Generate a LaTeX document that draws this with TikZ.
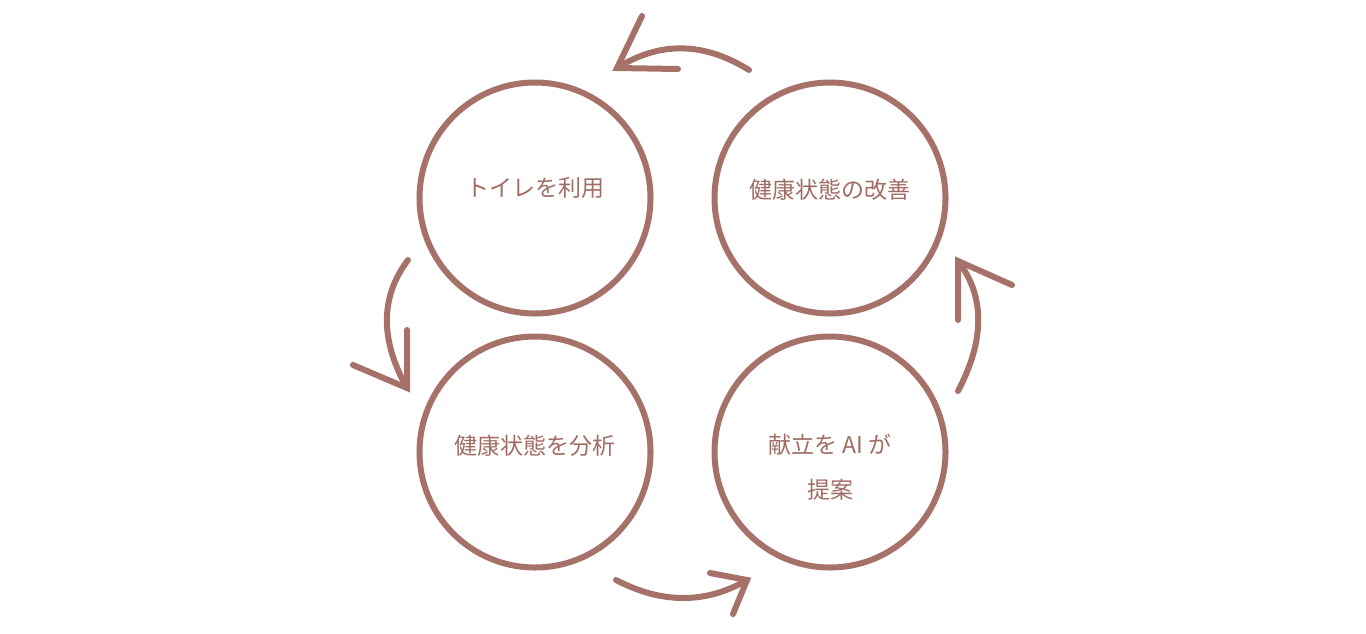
\documentclass[tikz,border=0pt]{standalone}
\usepackage{fontspec}
\newfontfamily\jp{Noto Sans CJK JP}
\definecolor{rose}{RGB}{165,113,104}
\definecolor{rosetext}{RGB}{160,108,100}
\begin{document}
\begin{tikzpicture}[x=1pt,y=-1pt,
  stage/.style={circle,draw=rose,line width=6pt,minimum size=231pt,inner sep=0pt},
  label/.style={text=rosetext,font=\jp\fontsize{23}{45}\selectfont,align=center},
  cyc/.style={draw=rose,line width=6pt,line cap=round},
  head/.style={draw=rose,line width=6pt,line cap=round,line join=miter}]
\useasboundingbox (0,0) rectangle (1366,633);
\node[stage] (tl) at (535,198) {};
\node[stage] (tr) at (830,198) {};
\node[stage] (bl) at (535,452) {};
\node[stage] (br) at (830,452) {};
\node[label] (tlt) at (535,188) {トイレを利用};
\node[label] (trt) at (830,190) {健康状態の改善};
\node[label] (blt) at (535,446) {健康状態を分析};
\node[label] (brt) at (830,467) {献立を AI が\\提案};
% top arrow
\coordinate (a1s) at (749,70);
\coordinate (a1t) at (617,68);
\draw[cyc] (a1s) .. controls (704,42) and (660,41) .. (a1t);
\draw[head] (642,16) -- (a1t) -- (678,69);
% left arrow
\coordinate (a2s) at (408,260);
\coordinate (a2t) at (407,388);
\draw[cyc] (a2s) .. controls (380,297) and (380,340) .. (a2t);
\draw[head] (407,330) -- (a2t) -- (353,365);
% bottom arrow
\coordinate (a3s) at (616,580);
\coordinate (a3t) at (747,580);
\draw[cyc] (a3s) .. controls (662,604) and (706,604) .. (a3t);
\draw[head] (710,573) -- (a3t) -- (733,614);
% right arrow
\coordinate (a4s) at (958,391);
\coordinate (a4t) at (958,261);
\draw[cyc] (a4s) .. controls (985,340) and (985,296) .. (a4t);
\draw[head] (958,320) -- (a4t) -- (1012,285);
\end{tikzpicture}
\end{document}
